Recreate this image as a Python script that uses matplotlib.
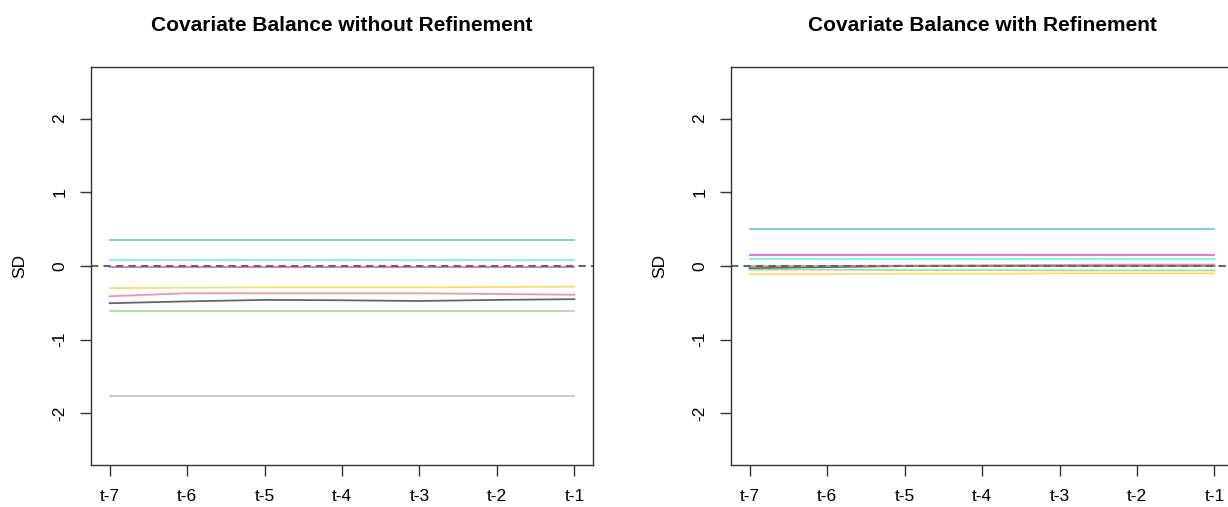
import numpy as np
import matplotlib.pyplot as plt

plt.rcParams['font.family'] = ['Liberation Sans', 'DejaVu Sans']

periods = ["t-7", "t-6", "t-5", "t-4", "t-3", "t-2", "t-1"]

# covariate balance (SD) without refinement
before = {
    "black":  [-0.505, -0.48, -0.46, -0.465, -0.475, -0.46, -0.45],
    "red":    [-0.41, -0.37, -0.37, -0.37, -0.37, -0.38, -0.39],
    "green":  [-0.61, -0.61, -0.61, -0.61, -0.61, -0.61, -0.61],
    "blue":   [0.35, 0.35, 0.35, 0.35, 0.35, 0.35, 0.35],
    "cyan":   [0.085, 0.085, 0.085, 0.085, 0.085, 0.085, 0.085],
    "magenta": [-0.02, -0.02, -0.02, -0.02, -0.02, -0.02, -0.02],
    "yellow": [-0.30, -0.295, -0.29, -0.29, -0.29, -0.285, -0.28],
    "gray":   [-1.757, -1.757, -1.757, -1.757, -1.757, -1.757, -1.757],
}

# covariate balance (SD) with refinement
after = {
    "black":  [-0.03, -0.015, 0.0, 0.0, 0.0, 0.0, 0.0],
    "red":    [-0.01, 0.0, 0.005, 0.01, 0.015, 0.02, 0.02],
    "green":  [-0.05, -0.05, -0.055, -0.055, -0.06, -0.06, -0.06],
    "blue":   [0.505, 0.505, 0.505, 0.505, 0.505, 0.505, 0.505],
    "cyan":   [0.10, 0.10, 0.10, 0.10, 0.10, 0.10, 0.10],
    "magenta": [0.15, 0.15, 0.15, 0.15, 0.15, 0.15, 0.15],
    "yellow": [-0.11, -0.11, -0.105, -0.105, -0.10, -0.10, -0.10],
    "gray":   [0.0, 0.0, 0.0, 0.0, 0.0, 0.0, 0.0],
}

colors = {
    "black": "#000000", "red": "#DF536B", "green": "#61D04F", "blue": "#2297E6",
    "cyan": "#28E2E5", "magenta": "#CD0BBC", "yellow": "#F5C710", "gray": "#9E9E9E",
}

titles = ["Covariate Balance without Refinement", "Covariate Balance with Refinement"]

fig = plt.figure(figsize=(12.28, 5.07), dpi=100)
lefts = [0.0741, 0.5953]
x = np.arange(1, len(periods) + 1)

for left, data, title in zip(lefts, [before, after], titles):
    ax = fig.add_axes([left, 0.0828, 0.4088, 0.7851])
    for name, vals in data.items():
        ax.plot(x, vals, color=colors[name], alpha=0.6, lw=1.3)
    ax.axhline(0, color="#666666", ls=(0, (3.5, 2.5)), lw=1.5, clip_on=False)
    ax.set_xlim(0.76, 7.24)
    ax.set_ylim(-2.7, 2.7)
    ax.set_xticks(x)
    ax.set_xticklabels(periods)
    ax.set_yticks([-2, -1, 0, 1, 2])
    ax.set_yticklabels(["-2", "-1", "0", "1", "2"], rotation=90, va="center")
    ax.tick_params(direction="out", length=8, width=1, colors="#333333",
                   labelsize=12.5, labelcolor="black", pad=9)
    for sp in ax.spines.values():
        sp.set_color("#333333")
        sp.set_linewidth(1)
    ax.set_ylabel("SD", fontsize=12.5, labelpad=18)
    ax.set_title(title, fontsize=15, fontweight="bold", pad=26)

fig.savefig("out.png", dpi=100)
